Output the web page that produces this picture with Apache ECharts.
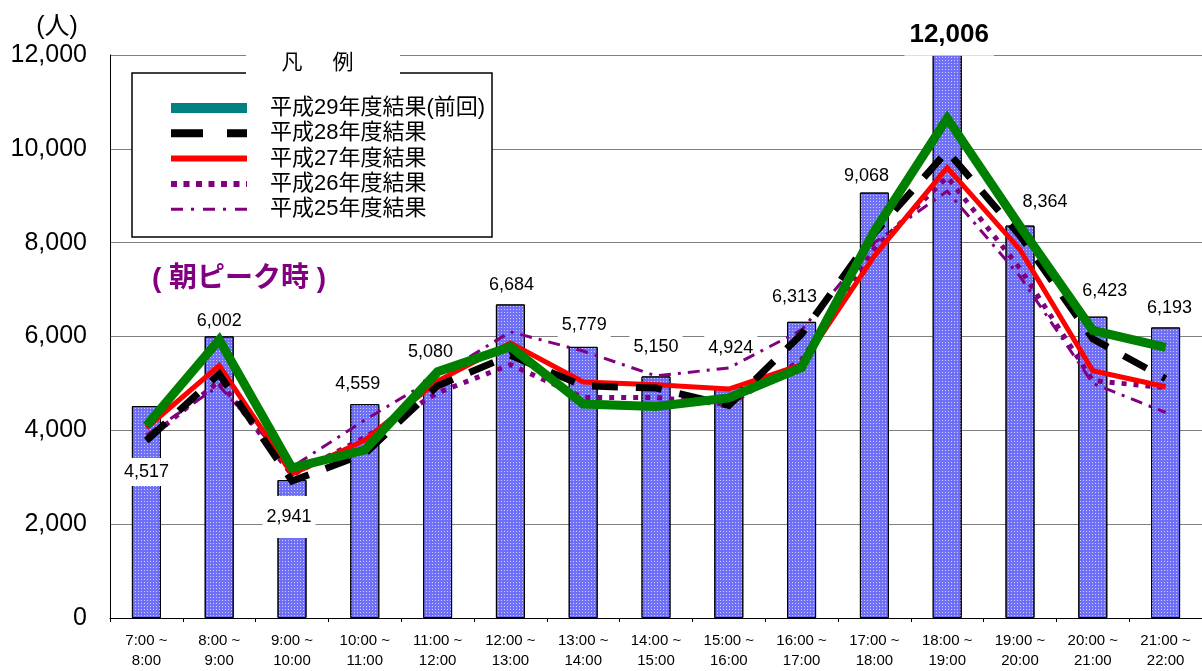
<!DOCTYPE html>
<html>
<head>
<meta charset="utf-8">
<script src="https://cdn.jsdelivr.net/npm/echarts@6/dist/echarts.min.js"></script>
<style>html,body{margin:0;padding:0;background:#fff}#c{width:1202px;height:671px}</style>
</head>
<body>
<div id="c"></div>
<script>
// ---- data ----
const slotStart = ['7:00','8:00','9:00','10:00','11:00','12:00','13:00','14:00','15:00','16:00','17:00','18:00','19:00','20:00','21:00'];
const slotEnd   = ['8:00','9:00','10:00','11:00','12:00','13:00','14:00','15:00','16:00','17:00','18:00','19:00','20:00','21:00','22:00'];
const totals = [4517, 6002, 2941, 4559, 5080, 6684, 5779, 5150, 4924, 6313, 9068, 12006, 8364, 6423, 6193];
const h29 = [4100, 5930, 3200, 3580, 5250, 5780, 4560, 4510, 4690, 5340, 8250, 10650, 8350, 6130, 5770];
const h28 = [3780, 5200, 2920, 3500, 4950, 5600, 4950, 4900, 4530, 6050, 8200, 9950, 8150, 5950, 5100];
const h27 = [4050, 5380, 3070, 3790, 5050, 5860, 5030, 4970, 4880, 5400, 7720, 9600, 7850, 5270, 4930];
const h26 = [3780, 5050, 3050, 3850, 4800, 5400, 4700, 4700, 4550, 5500, 7870, 9400, 7450, 5060, 4910];
const h25 = [3900, 4950, 3220, 4220, 5150, 6100, 5690, 5160, 5330, 6140, 8000, 9100, 7280, 5000, 4380];
const seriesNames = ['平成29年度結果(前回)', '平成28年度結果', '平成27年度結果', '平成26年度結果', '平成25年度結果'];
const yMin = 0, yMax = 12000, yStep = 2000;

// ---- layout (label centre relative to bar top centre: [dx, dy]) ----
const labelOffsets = [[0,66],[0,-15],[-3,37],[-7,-20],[-7,-28],[1,-19],[1,-22],[0,-29],[2,-39],[-7,-25],[-8,-17],[2,-20],[25,-24],[12,-26],[4,-19]];

const FONT = '"Liberation Sans", Arial, "Noto Sans CJK JP", sans-serif';
const categories = slotStart.map((s, i) => s + ' ~\n' + slotEnd[i]);
const peakIdx = totals.indexOf(Math.max(...totals));

const barData = totals.map((v, i) => {
  const big = i === peakIdx;
  return {
    value: v,
    label: {
      fontSize: big ? 26 : 18,
      lineHeight: big ? 26 : 18,
      fontWeight: big ? 'bold' : 'normal',
      padding: big ? [8, 5] : (i === 2 ? [12, 4] : [5, 4])
    }
  };
});

const chart = echarts.init(document.getElementById('c'), null, {renderer: 'canvas'});

const lineSeries = (name, data, color, width, type, z2) => ({
  name, type: 'line', data, symbol: 'none', z: 2 + z2,
  lineStyle: {color, width, type, cap: 'butt', join: 'miter'},
  itemStyle: {color},
  emphasis: {disabled: true}
});

chart.setOption({
  animation: false,
  grid: {left: 110, right: 0, top: 55, bottom: 49, containLabel: false},
  xAxis: {
    type: 'category', data: categories,
    axisLine: {lineStyle: {color: '#000', width: 1}},
    axisTick: {show: true, length: 4, lineStyle: {color: '#000'}},
    axisLabel: {fontSize: 15, lineHeight: 20, margin: 13, color: '#000', fontFamily: FONT, interval: 0}
  },
  yAxis: {
    type: 'value', min: yMin, max: yMax, interval: yStep,
    axisLine: {show: true, lineStyle: {color: '#000', width: 1}},
    axisTick: {show: false},
    splitLine: {lineStyle: {color: '#808080', width: 1}},
    axisLabel: {fontSize: 25, margin: 23, color: '#000', fontFamily: FONT,
      formatter: v => v.toLocaleString('en-US')}
  },
  legend: {
    left: 166, top: 97, orient: 'vertical', padding: 0,
    itemWidth: 76, itemHeight: 12, itemGap: 3.3, selectedMode: false, z: 6,
    textStyle: {fontSize: 22, lineHeight: 22, color: '#000', fontFamily: FONT, padding: [0, 0, 0, 18]},
    data: [
      {name: seriesNames[0], lineStyle: {color: '#008080', width: 10, type: 'solid'}, itemStyle: {opacity: 0}},
      {name: seriesNames[1], lineStyle: {color: '#000000', width: 8, type: [32, 24]}, itemStyle: {opacity: 0}},
      {name: seriesNames[2], lineStyle: {color: '#ff0000', width: 6, type: 'solid'}, itemStyle: {opacity: 0}},
      {name: seriesNames[3], lineStyle: {color: '#800080', width: 6, type: [6, 6.5]}, itemStyle: {opacity: 0}},
      {name: seriesNames[4], lineStyle: {color: '#800080', width: 3, type: [12, 8, 3, 9]}, itemStyle: {opacity: 0}}
    ]
  },
  graphic: [
    {type: 'rect', z: 4, shape: {x: 132, y: 73, width: 360, height: 164},
      style: {fill: '#fff', stroke: '#000', lineWidth: 1.5}},
    {type: 'rect', z: 4, shape: {x: 246, y: 47, width: 154, height: 28}, style: {fill: '#fff'}},
    {type: 'text', z: 7, x: 292, y: 63, style: {text: '凡', fontSize: 21, fontFamily: FONT, fill: '#000', align: 'center', verticalAlign: 'middle'}},
    {type: 'text', z: 7, x: 343, y: 63, style: {text: '例', fontSize: 21, fontFamily: FONT, fill: '#000', align: 'center', verticalAlign: 'middle'}},
    {type: 'text', z: 7, x: 57, y: 27, style: {text: '(人)', fontSize: 25, fontFamily: FONT, fill: '#000', align: 'center', verticalAlign: 'middle'}},
    {type: 'text', z: 7, x: 239, y: 279, style: {text: '( 朝ピーク時 )', fontSize: 28, fontWeight: 'bold', fontFamily: FONT, fill: '#800080', align: 'center', verticalAlign: 'middle'}}
  ],
  series: [
    {
      name: '合計', type: 'bar', data: barData, barWidth: 29, z: 2,
      itemStyle: {
        color: '#7070f6', borderColor: '#000', borderWidth: 1,
        decal: {symbol: 'rect', symbolSize: 1, color: 'rgba(255,255,255,0.65)', dashArrayX: [1, 2], dashArrayY: [1, 2], rotation: 0}
      },
      label: {show: true, position: 'top', distance: 0, color: '#000', backgroundColor: '#fff',
        fontFamily: FONT, formatter: p => p.value.toLocaleString('en-US')},
      labelLayout: p => {
        const off = labelOffsets[p.dataIndex];
        return {
          x: p.rect.x + p.rect.width / 2 + off[0],
          y: p.rect.y + off[1],
          align: 'center',
          verticalAlign: 'middle',
          hideOverlap: false
        };
      },
      emphasis: {disabled: true}
    },
    lineSeries(seriesNames[4], h25, '#800080', 3, [12, 7, 3, 7], 1),
    lineSeries(seriesNames[3], h26, '#800080', 5, [5, 7], 2),
    lineSeries(seriesNames[2], h27, '#ff0000', 5, 'solid', 3),
    lineSeries(seriesNames[1], h28, '#000000', 7, [26, 18], 4),
    lineSeries(seriesNames[0], h29, '#008000', 9, 'solid', 5)
  ]
});
</script>
</body>
</html>
